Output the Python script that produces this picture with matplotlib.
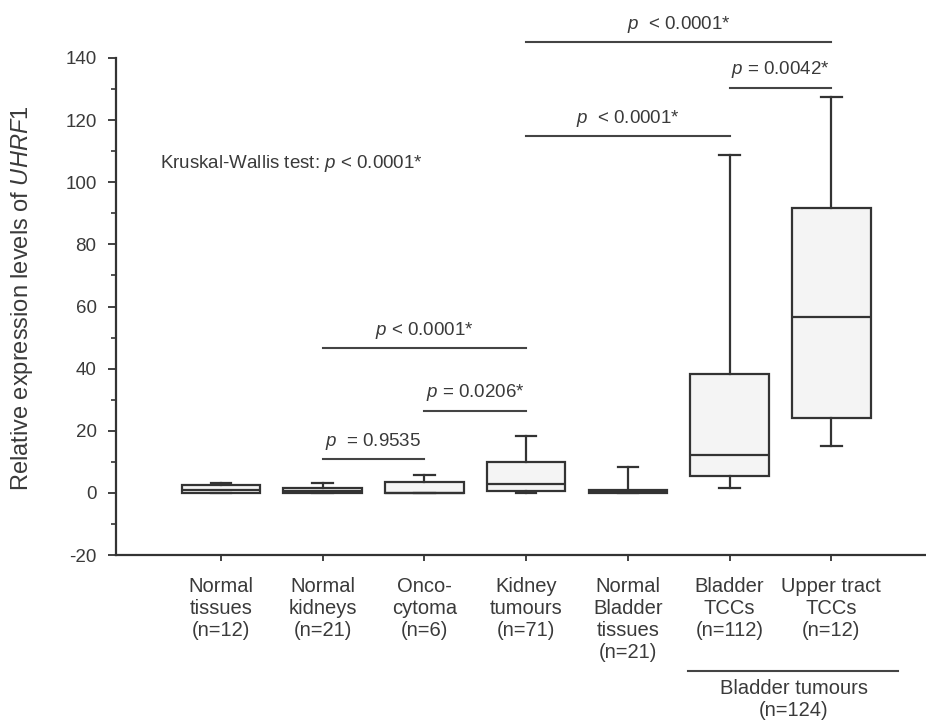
import matplotlib
matplotlib.use("Agg")
import matplotlib.pyplot as plt

plt.rcParams['font.family'] = ['Liberation Sans', 'DejaVu Sans']
plt.rcParams['mathtext.fontset'] = 'custom'
plt.rcParams['mathtext.rm'] = 'Liberation Sans'
plt.rcParams['mathtext.it'] = 'Liberation Sans:italic'
plt.rcParams['axes.unicode_minus'] = False

# ---- data ----
categories = ["Normal\ntissues\n(n=12)", "Normal\nkidneys\n(n=21)", "Onco-\ncytoma\n(n=6)",
              "Kidney\ntumours\n(n=71)", "Normal\nBladder\ntissues\n(n=21)",
              "Bladder\nTCCs\n(n=112)", "Upper tract\nTCCs\n(n=12)"]
whis_low = [0.0, 0.0, 0.0, 0.0, 0.0, 1.6, 15.2]
q1 = [0.0, 0.0, 0.0, 0.5, 0.0, 5.5, 24.2]
medians = [1.0, 0.5, 0.0, 2.8, 0.3, 12.3, 56.5]
q3 = [2.5, 1.6, 3.5, 10.1, 1.0, 38.2, 91.6]
whis_high = [3.2, 3.2, 5.6, 18.3, 8.4, 108.8, 127.6]

# comparisons: (left index, right index, line y, label)
comparisons = [
    (1, 2, 11.0, "$p$  = 0.9535"),
    (2, 3, 26.5, "$p$ = 0.0206*"),
    (1, 3, 46.5, "$p$ < 0.0001*"),
    (3, 5, 115.0, "$p$  < 0.0001*"),
    (5, 6, 130.5, "$p$ = 0.0042*"),
    (3, 6, 145.0, "$p$  < 0.0001*"),
]
kw_text = "Kruskal-Wallis test: $p$ < 0.0001*"
group_label = "Bladder tumours\n(n=124)"

TXT = "#3a3a3a"
LN = "#333333"
FS = 13.5
FSX = 14.5

fig = plt.figure(figsize=(9.26, 7.28), dpi=100)
ax = fig.add_axes([116/926, 1-555/728, 810/926, (555-58)/728])

positions = list(range(1, len(categories) + 1))
stats = []
for i in range(len(categories)):
    stats.append(dict(med=medians[i], q1=q1[i], q3=q3[i],
                      whislo=whis_low[i], whishi=whis_high[i], fliers=[]))
ax.bxp(stats, positions=positions, widths=0.77, patch_artist=True,
       showfliers=False,
       boxprops=dict(facecolor="#f4f4f4", edgecolor=LN, linewidth=1.6),
       medianprops=dict(color=LN, linewidth=1.6),
       whiskerprops=dict(color=LN, linewidth=1.6),
       capprops=dict(color=LN, linewidth=1.6),
       capwidths=0.2)

ax.set_xlim(-0.03, 7.93)
ax.set_ylim(-20, 140)
ax.set_yticks(range(-20, 141, 20))
ax.set_yticks(range(-10, 140, 20), minor=True)
ax.set_xticks(positions)
ax.set_xticklabels(categories, fontsize=FSX, color=TXT, linespacing=1.2)
ax.tick_params(axis='y', which='major', length=6, width=1.3, pad=8, labelsize=13.5, labelcolor=TXT, color=LN)
ax.tick_params(axis='y', which='minor', length=3.5, width=1.2, color=LN)
ax.tick_params(axis='x', which='major', length=4, width=1.3, pad=12, color=LN)
for s in ["top", "right"]:
    ax.spines[s].set_visible(False)
for s in ["left", "bottom"]:
    ax.spines[s].set_color(LN)
    ax.spines[s].set_linewidth(1.6)

ax.set_ylabel("Relative expression levels of $\\it{UHRF1}$", fontsize=17, color=TXT)
ax.yaxis.label.set_verticalalignment('center')
ax.yaxis.set_label_coords(-0.116, 0.517)

for a, b, y, lab in comparisons:
    xa, xb = positions[a], positions[b]
    ax.plot([xa, xb], [y, y], color="#444444", linewidth=1.5, clip_on=False)
    ax.text((xa + xb) / 2, y + 2.3, lab, ha='center', va='bottom', fontsize=FS, color=TXT, clip_on=False)

ax.text(0.40, 106, kw_text, ha='left', va='center', fontsize=FS, color=TXT)

# Bladder tumours group bracket below axis
ax.plot([5.59, 7.65], [-57.4, -57.4], color="#444444", linewidth=1.5, clip_on=False)
ax.text(6.63, -60.0, group_label, ha='center', va='top', fontsize=FSX, color=TXT,
        linespacing=1.2, clip_on=False)

fig.savefig("out.png", dpi=100)
